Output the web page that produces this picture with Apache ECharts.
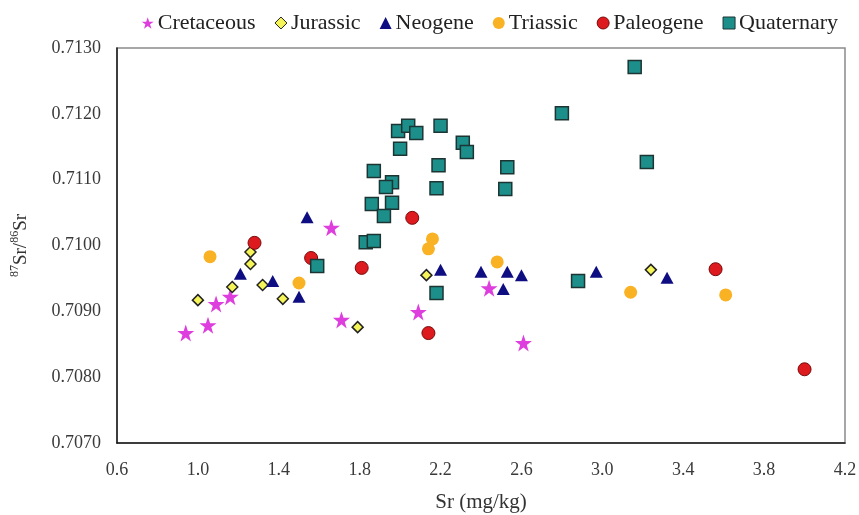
<!DOCTYPE html>
<html>
<head>
<meta charset="utf-8">
<script src="https://cdn.jsdelivr.net/npm/echarts@6/dist/echarts.min.js"></script>
<style>
  html, body { margin: 0; padding: 0; background: #fff; }
  #chart { width: 859px; height: 515px; }
</style>
</head>
<body>
<div id="chart"></div>
<script>
// Sr concentration (mg/kg) vs 87Sr/86Sr ratio, grouped by geological age
const cretaceous = [
  [0.94, 0.70867], [1.05, 0.70879], [1.09, 0.70911], [1.16, 0.70922],
  [1.66, 0.71027], [1.71, 0.70887], [2.09, 0.70899], [2.44, 0.70935],
  [2.61, 0.70852]
];
const jurassic = [
  [1.00, 0.70917], [1.17, 0.70937], [1.26, 0.70972], [1.26, 0.70990],
  [1.32, 0.70940], [1.42, 0.70919], [1.79, 0.70876], [2.13, 0.70955],
  [3.24, 0.70963]
];
const neogene = [
  [1.21, 0.70957], [1.37, 0.70946], [1.50, 0.70922], [1.54, 0.71043],
  [2.20, 0.70963], [2.40, 0.70960], [2.53, 0.70960], [2.60, 0.70955],
  [2.51, 0.70934], [2.97, 0.70960], [3.32, 0.70951]
];
const triassic = [
  [1.06, 0.70983], [1.50, 0.70943], [2.16, 0.71010], [2.14, 0.70995],
  [2.48, 0.70975], [3.14, 0.70929], [3.61, 0.70925]
];
const paleogene = [
  [1.28, 0.71004], [1.56, 0.70981], [1.81, 0.70966], [2.06, 0.71042],
  [2.14, 0.70867], [3.56, 0.70964], [4.00, 0.70812]
];
const quaternary = [
  [1.59, 0.70969], [1.83, 0.71005], [1.87, 0.71007], [1.86, 0.71063],
  [1.96, 0.71065], [1.92, 0.71045], [1.87, 0.71113], [1.96, 0.71096],
  [1.93, 0.71089], [1.99, 0.71174], [2.04, 0.71182], [2.08, 0.71171],
  [2.00, 0.71147], [2.20, 0.71182], [2.19, 0.71122], [2.18, 0.71087],
  [2.31, 0.71156], [2.33, 0.71142], [2.53, 0.71119], [2.52, 0.71086],
  [2.18, 0.70928], [2.80, 0.71201], [2.88, 0.70946], [3.16, 0.71271],
  [3.22, 0.71127]
];

const xTicks = { min: 0.6, max: 4.2, step: 0.4 };
const yTicks = { min: 0.7070, max: 0.7130, step: 0.0010 };

const FONT = '"Liberation Serif", "DejaVu Serif", serif';
const STAR = 'path://M50,0 L61.8,34.5 L97.6,34.5 L68.5,55.9 L79.4,90.5 L50,69.1 L20.6,90.5 L31.5,55.9 L2.4,34.5 L38.2,34.5 Z';

const chart = echarts.init(document.getElementById('chart'), null, { renderer: 'canvas' });

function scatter(name, data, symbol, size, style) {
  return {
    name, type: 'scatter', data, symbol, symbolSize: size,
    itemStyle: style,
    emphasis: { disabled: true }
  };
}

chart.setOption({
  animation: false,
  backgroundColor: '#fff',
  legend: {
    top: 7, right: 16,
    itemWidth: 12, itemHeight: 12, itemGap: 19,
    textStyle: { fontFamily: FONT, fontSize: 22, color: '#222', padding: [0, 0, 0, -1] },
    data: [
      { name: 'Cretaceous', icon: STAR, itemStyle: { color: '#DD3EDD' } },
      { name: 'Jurassic', icon: 'diamond', itemStyle: { color: '#F5F55A', borderColor: '#222', borderWidth: 1 } },
      { name: 'Neogene', icon: 'triangle', itemStyle: { color: '#0E0E82' } },
      { name: 'Triassic', icon: 'circle', itemStyle: { color: '#F9B224' } },
      { name: 'Paleogene', icon: 'circle', itemStyle: { color: '#DD1A1E', borderColor: '#7a0a0a', borderWidth: 1 } },
      { name: 'Quaternary', icon: 'rect', itemStyle: { color: '#1C8F8B', borderColor: '#1c3533', borderWidth: 1 } }
    ]
  },
  grid: {
    left: 117, right: 14, top: 48, bottom: 72,
    outerBoundsMode: 'none',
    show: true, borderColor: '#8a8a8a', borderWidth: 1.5
  },
  xAxis: {
    type: 'value',
    min: xTicks.min, max: xTicks.max, interval: xTicks.step,
    name: 'Sr (mg/kg)', nameLocation: 'middle', nameGap: 49,
    nameTextStyle: { fontFamily: FONT, fontSize: 21, color: '#333' },
    axisLine: { show: true, lineStyle: { color: '#1a1a1a', width: 1.5 } },
    axisTick: { show: false },
    splitLine: { show: false },
    axisLabel: {
      margin: 18, fontFamily: FONT, fontSize: 18, color: '#3a3a3a',
      formatter: v => v.toFixed(1)
    }
  },
  yAxis: {
    type: 'value',
    min: yTicks.min, max: yTicks.max, interval: yTicks.step,
    name: '{sup|87}{b|Sr/}{sup|86}{b|Sr}', nameLocation: 'middle', nameGap: 86, nameRotate: 90,
    nameTextStyle: {
      fontFamily: FONT, color: '#333',
      rich: {
        b: { fontFamily: FONT, fontSize: 19, color: '#333', lineHeight: 22, verticalAlign: 'bottom' },
        sup: { fontFamily: FONT, fontSize: 12, color: '#333', lineHeight: 22, verticalAlign: 'top' }
      }
    },
    axisLine: { show: true, lineStyle: { color: '#1a1a1a', width: 1.5 } },
    axisTick: { show: false },
    splitLine: { show: false },
    axisLabel: {
      margin: 16, fontFamily: FONT, fontSize: 18, color: '#3a3a3a',
      formatter: v => v.toFixed(4)
    }
  },
  series: [
    scatter('Cretaceous', cretaceous, STAR, 17, { color: '#DD3EDD', opacity: 1 }),
    scatter('Jurassic', jurassic, 'diamond', 11, { color: '#F5F55A', borderColor: '#222', borderWidth: 1.5, opacity: 1 }),
    scatter('Neogene', neogene, 'triangle', [13, 12], { color: '#0E0E82', opacity: 1 }),
    scatter('Triassic', triassic, 'circle', 13, { color: '#F9B224', opacity: 1 }),
    scatter('Paleogene', paleogene, 'circle', 13, { color: '#DD1A1E', borderColor: '#7a0a0a', borderWidth: 1, opacity: 1 }),
    scatter('Quaternary', quaternary, 'rect', 13, { color: '#1C8F8B', borderColor: '#1c3533', borderWidth: 1.5, opacity: 1 })
  ]
});
</script>
</body>
</html>
